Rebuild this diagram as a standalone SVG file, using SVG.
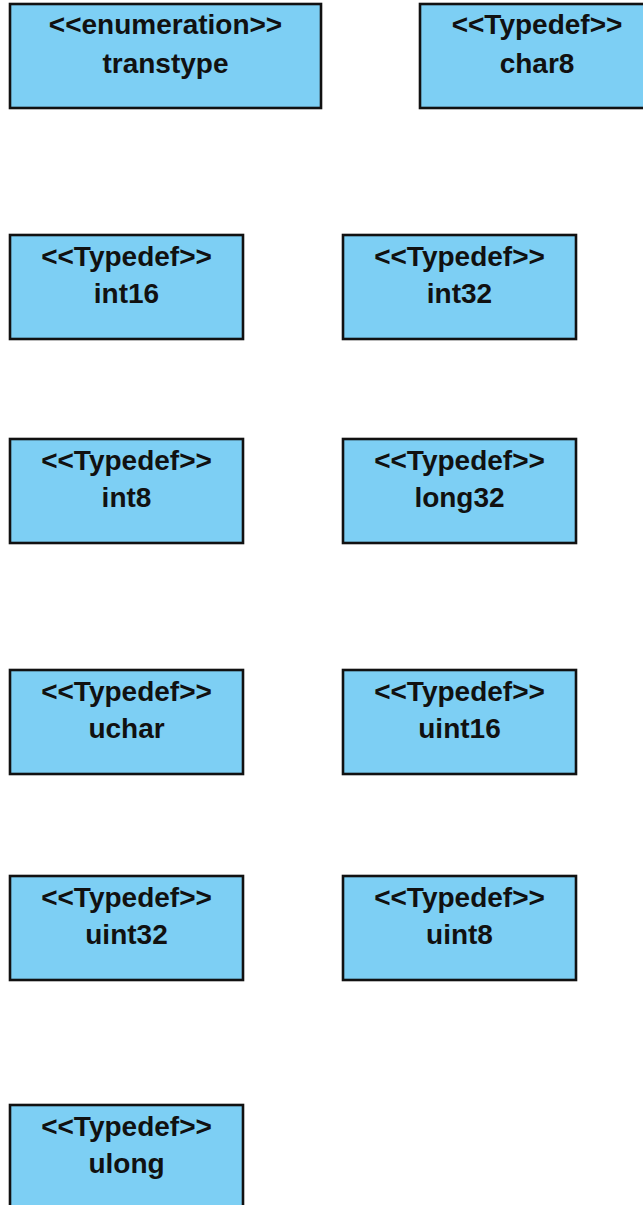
<svg xmlns="http://www.w3.org/2000/svg" width="643" height="1205" viewBox="0 0 643 1205">
  <style>
    .box { fill: #7dcff4; stroke: #111; stroke-width: 2.6; }
    .lbl { font-family: "Liberation Sans", Arial, sans-serif; font-weight: bold; font-size: 28px; fill: #111; text-anchor: middle; }
  </style>
  <rect width="643" height="1205" fill="#fff"/>
  <g id="connectors"/>
  <g id="transtype">
    <rect class="box" x="10" y="4" width="311" height="104"/>
    <text class="lbl" x="165.5" y="34">&lt;&lt;enumeration&gt;&gt;</text>
    <text class="lbl" x="165.5" y="73">transtype</text>
  </g>
  <g id="char8">
    <rect class="box" x="420" y="4" width="236" height="104"/>
    <text class="lbl" x="537" y="34">&lt;&lt;Typedef&gt;&gt;</text>
    <text class="lbl" x="537" y="73">char8</text>
  </g>
  <g id="int16">
    <rect class="box" x="10" y="235" width="233" height="104"/>
    <text class="lbl" x="126.5" y="266">&lt;&lt;Typedef&gt;&gt;</text>
    <text class="lbl" x="126.5" y="303">int16</text>
  </g>
  <g id="int32">
    <rect class="box" x="343" y="235" width="233" height="104"/>
    <text class="lbl" x="459.5" y="266">&lt;&lt;Typedef&gt;&gt;</text>
    <text class="lbl" x="459.5" y="303">int32</text>
  </g>
  <g id="int8">
    <rect class="box" x="10" y="439" width="233" height="104"/>
    <text class="lbl" x="126.5" y="470">&lt;&lt;Typedef&gt;&gt;</text>
    <text class="lbl" x="126.5" y="507">int8</text>
  </g>
  <g id="long32">
    <rect class="box" x="343" y="439" width="233" height="104"/>
    <text class="lbl" x="459.5" y="470">&lt;&lt;Typedef&gt;&gt;</text>
    <text class="lbl" x="459.5" y="507">long32</text>
  </g>
  <g id="uchar">
    <rect class="box" x="10" y="670" width="233" height="104"/>
    <text class="lbl" x="126.5" y="701">&lt;&lt;Typedef&gt;&gt;</text>
    <text class="lbl" x="126.5" y="738">uchar</text>
  </g>
  <g id="uint16">
    <rect class="box" x="343" y="670" width="233" height="104"/>
    <text class="lbl" x="459.5" y="701">&lt;&lt;Typedef&gt;&gt;</text>
    <text class="lbl" x="459.5" y="738">uint16</text>
  </g>
  <g id="uint32">
    <rect class="box" x="10" y="876" width="233" height="104"/>
    <text class="lbl" x="126.5" y="907">&lt;&lt;Typedef&gt;&gt;</text>
    <text class="lbl" x="126.5" y="944">uint32</text>
  </g>
  <g id="uint8">
    <rect class="box" x="343" y="876" width="233" height="104"/>
    <text class="lbl" x="459.5" y="907">&lt;&lt;Typedef&gt;&gt;</text>
    <text class="lbl" x="459.5" y="944">uint8</text>
  </g>
  <g id="ulong">
    <rect class="box" x="10" y="1105" width="233" height="104"/>
    <text class="lbl" x="126.5" y="1136">&lt;&lt;Typedef&gt;&gt;</text>
    <text class="lbl" x="126.5" y="1173">ulong</text>
  </g>
</svg>
